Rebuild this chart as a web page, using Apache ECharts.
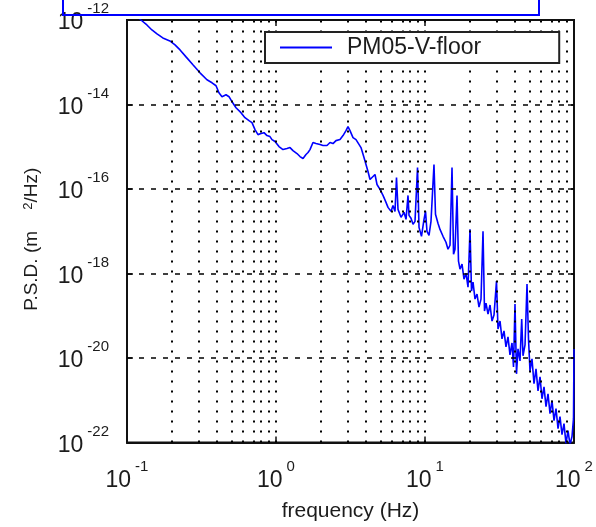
<!DOCTYPE html>
<html>
<head>
<meta charset="utf-8">
<script src="https://cdn.jsdelivr.net/npm/echarts@6/dist/echarts.min.js"></script>
<style>
  html, body { margin: 0; padding: 0; background: #ffffff; }
  #chart { width: 596px; height: 527px; }
</style>
</head>
<body>
<div id="chart"></div>
<script>
// Vertical floor vibration spectrum, PM05 station
const seriesName = 'PM05-V-floor';

// Frequency (Hz)
const freqHz = [
  0.11, 0.124, 0.136, 0.147, 0.159, 0.174, 0.194, 0.210, 0.227, 0.249,
  0.277, 0.309, 0.344, 0.372, 0.396, 0.414, 0.434, 0.462, 0.484, 0.507,
  0.539, 0.582, 0.619, 0.659, 0.690, 0.723, 0.757, 0.793, 0.831, 0.870,
  0.911, 0.940, 0.985, 1.047, 1.114, 1.185, 1.242, 1.300, 1.383, 1.449,
  1.518, 1.590, 1.640, 1.691, 1.771, 1.855, 1.974, 2.068, 2.199, 2.304,
  2.413, 2.527, 2.689, 2.817, 2.950, 3.042, 3.138, 3.287, 3.443, 3.550,
  3.719, 3.896, 4.018, 4.144, 4.275, 4.409, 4.618, 4.763, 4.989, 5.226,
  5.474, 5.646, 5.914, 6.099, 6.291, 6.438, 6.589, 6.902, 7.228, 7.457,
  7.691, 7.811, 8.054, 8.309, 8.568, 8.908, 9.115, 9.473, 9.847, 10.08,
  10.31, 10.64, 10.97, 11.49, 11.76, 12.22, 12.61, 13.21, 13.83, 14.27,
  14.72, 15.18, 15.54, 15.90, 16.40, 16.78, 17.18, 17.72, 18.27, 18.84,
  19.44, 20.05, 20.52, 21.00, 21.66, 22.34, 23.04, 23.76, 24.51, 25.08,
  25.67, 26.48, 27.31, 28.17, 29.05, 30.19, 30.90, 31.87, 32.87, 33.89,
  34.96, 36.06, 37.19, 38.36, 39.26, 40.18, 41.12, 42.09, 43.42, 44.57,
  45.48, 46.91, 48.38, 49.51, 50.66, 52.25, 53.89, 55.59, 57.34, 59.14,
  60.99, 62.91, 64.89, 66.92, 69.02, 71.19, 73.43, 75.74, 78.12, 80.54,
  83.08, 85.68, 88.37, 91.14, 94.02, 96.96, 99.23, 100
];

// Power spectral density (m^2/Hz)
const psd = [
  1.46e-12, 1.0e-12, 7.62e-13, 5.81e-13, 4.68e-13, 3.76e-13, 3.20e-13, 2.57e-13, 1.96e-13, 1.34e-13,
  8.69e-14, 5.62e-14, 3.85e-14, 3.27e-14, 2.78e-14, 1.90e-14, 1.53e-14, 1.70e-14, 1.53e-14, 1.16e-14,
  8.41e-15, 6.41e-15, 4.89e-15, 4.15e-15, 3.72e-15, 2.55e-15, 1.94e-15, 2.05e-15, 2.16e-15, 1.84e-15,
  1.74e-15, 1.48e-15, 1.33e-15, 1.01e-15, 8.59e-16, 9.08e-16, 9.57e-16, 8.13e-16, 6.92e-16, 5.87e-16,
  5.27e-16, 6.55e-16, 7.30e-16, 8.59e-16, 1.26e-15, 1.19e-15, 1.13e-15, 1.07e-15, 1.07e-15, 1.26e-15,
  1.19e-15, 1.40e-15, 1.48e-15, 1.84e-15, 2.41e-15, 2.99e-15, 2.41e-15, 1.65e-15, 1.48e-15, 1.40e-15,
  9.57e-16, 5.56e-16, 3.80e-16, 2.60e-16, 1.68e-16, 1.88e-16, 2.21e-16, 1.28e-16, 9.79e-17, 7.06e-17,
  4.83e-17, 3.68e-17, 2.96e-17, 4.10e-17, 2.96e-17, 1.88e-16, 3.30e-17, 2.14e-17, 2.81e-17, 1.92e-17,
  7.06e-17, 2.38e-17, 2.03e-17, 1.46e-17, 1.72e-17, 3.23e-16, 1.24e-17, 7.62e-18, 1.92e-17, 2.96e-17,
  1.0e-17, 8.05e-18, 1.72e-17, 3.80e-16, 2.52e-17, 1.55e-17, 1.11e-17, 7.62e-18, 5.51e-18, 3.76e-18,
  4.68e-18, 3.23e-16, 2.87e-18, 3.76e-18, 7.06e-17, 1.96e-18, 1.27e-18, 1.67e-18, 7.38e-19, 1.02e-18,
  4.78e-19, 1.11e-17, 3.85e-19, 6.27e-19, 2.49e-19, 3.27e-19, 1.61e-19, 2.49e-19, 1.0e-17, 1.30e-19,
  2.00e-19, 1.10e-19, 1.80e-19, 7.53e-20, 1.04e-19, 6.62e-19, 4.89e-20, 7.53e-20, 2.84e-20, 4.38e-20,
  1.84e-20, 3.16e-20, 1.19e-20, 2.28e-20, 6.19e-21, 1.90e-19, 4.24e-21, 1.65e-20, 8.59e-21, 8.41e-20,
  1.13e-20, 2.05e-20, 5.62e-19, 2.84e-20, 4.99e-21, 9.57e-21, 2.47e-21, 5.56e-21, 1.68e-21, 3.61e-21,
  1.09e-21, 2.09e-21, 7.06e-22, 1.43e-21, 4.83e-22, 9.79e-22, 3.30e-22, 6.34e-22, 2.14e-22, 4.10e-22,
  1.55e-22, 2.81e-22, 9.46e-23, 1.92e-22, 8.97e-23, 1.39e-22, 3.68e-22, 1.65e-20
];

// Axis ranges (decade exponents) and grid lines
const freqExpRange = [-1, 2];
const psdExpRange = [-22, -12];
const minorFreqs = [
  0.2, 0.3, 0.4, 0.5, 0.6, 0.7, 0.8, 0.9, 1,
  2, 3, 4, 5, 6, 7, 8, 9, 10,
  20, 30, 40, 50, 60, 70, 80, 90
];
const psdGrid = [1e-14, 1e-16, 1e-18, 1e-20];

// Both axes are logarithmic: plot decade exponents on linear value axes
const lg = Math.log10;

const ink = '#1c1c1c';
const fontFamily = '"Liberation Sans", Arial, sans-serif';

// "10" with the exponent raised as a superscript (bottom padding lifts it)
const powerRich = {
  b: { fontSize: 23, lineHeight: 24, color: ink, fontFamily, padding: [6, 0, 0, 0] },
  s: { fontSize: 15, lineHeight: 14, color: ink, fontFamily, padding: [0, 0, 22, 4] }
};
const powerLabel = v => '{b|10}{s|' + Math.round(v) + '}';

const frameLine = { show: true, onZero: false, lineStyle: { color: '#111', width: 2 } };
const frameTick = { show: true, inside: true, length: 6, lineStyle: { color: '#111', width: 1.5 } };

const chart = echarts.init(document.getElementById('chart'), null, { renderer: 'canvas' });

chart.setOption({
  animation: false,
  backgroundColor: '#ffffff',
  textStyle: { fontFamily, color: ink },
  grid: {
    left: 127, right: 22, top: 20, bottom: 83,
    show: true, borderColor: '#111', borderWidth: 2, backgroundColor: 'transparent'
  },
  legend: {
    left: 265, top: 32, z: 10,
    orient: 'horizontal',
    data: [{ name: seriesName, icon: 'rect' }],
    itemWidth: 52, itemHeight: 2,
    padding: [4, 78, 4, 15],
    backgroundColor: '#ffffff',
    borderColor: '#222', borderWidth: 2,
    selectedMode: false,
    textStyle: { fontSize: 23, color: ink, fontFamily, padding: [0, 0, 0, 10] }
  },
  graphic: [{
    type: 'rect', silent: true, z: 100,
    shape: { x: 63, y: -10, width: 476, height: 25 },
    style: { fill: 'none', stroke: '#0000ff', lineWidth: 2 }
  }],
  xAxis: [{
    type: 'value', min: freqExpRange[0], max: freqExpRange[1], interval: 1,
    name: 'frequency (Hz)', nameLocation: 'middle', nameGap: 57,
    nameTextStyle: { fontSize: 21, color: ink, fontFamily },
    axisLine: frameLine, axisTick: frameTick,
    splitLine: { show: false },
    axisLabel: { margin: 23, formatter: powerLabel, rich: powerRich }
  }, {
    type: 'value', min: freqExpRange[0], max: freqExpRange[1], interval: 1, position: 'top',
    axisLine: frameLine, axisTick: frameTick,
    splitLine: { show: false }, axisLabel: { show: false }
  }],
  yAxis: [{
    type: 'value', min: psdExpRange[0], max: psdExpRange[1], interval: 2,
    name: 'P.S.D. (m    {s|2}/Hz)', nameLocation: 'middle', nameGap: 86, nameRotate: 90,
    nameTextStyle: {
      fontSize: 19, color: ink, fontFamily, padding: [0, 16, 0, 0],
      rich: { s: { fontSize: 13, color: ink, fontFamily, verticalAlign: 'top', lineHeight: 12 } }
    },
    axisLine: frameLine, axisTick: frameTick,
    splitLine: { show: false },
    axisLabel: { margin: 18, formatter: powerLabel, rich: powerRich }
  }, {
    type: 'value', min: psdExpRange[0], max: psdExpRange[1], interval: 2, position: 'right',
    axisLine: frameLine, axisTick: frameTick,
    splitLine: { show: false }, axisLabel: { show: false }
  }],
  series: [{
    name: seriesName,
    type: 'line',
    xAxisIndex: 0, yAxisIndex: 0,
    data: freqHz.map((f, i) => [lg(f), lg(psd[i])]),
    showSymbol: false,
    clip: true,
    lineStyle: { color: '#0000ff', width: 1.6 },
    itemStyle: { color: '#0000ff' },
    z: 3,
    markLine: {
      silent: true,
      symbol: ['none', 'none'],
      label: { show: false },
      data: [
        ...minorFreqs.map(v => ({ xAxis: lg(v), lineStyle: { type: [2, 8], color: '#000', width: 2 } })),
        ...psdGrid.map(v => ({ yAxis: lg(v), lineStyle: { type: [5, 7], color: '#000', width: 1.5 } }))
      ]
    }
  }]
});
</script>
</body>
</html>
